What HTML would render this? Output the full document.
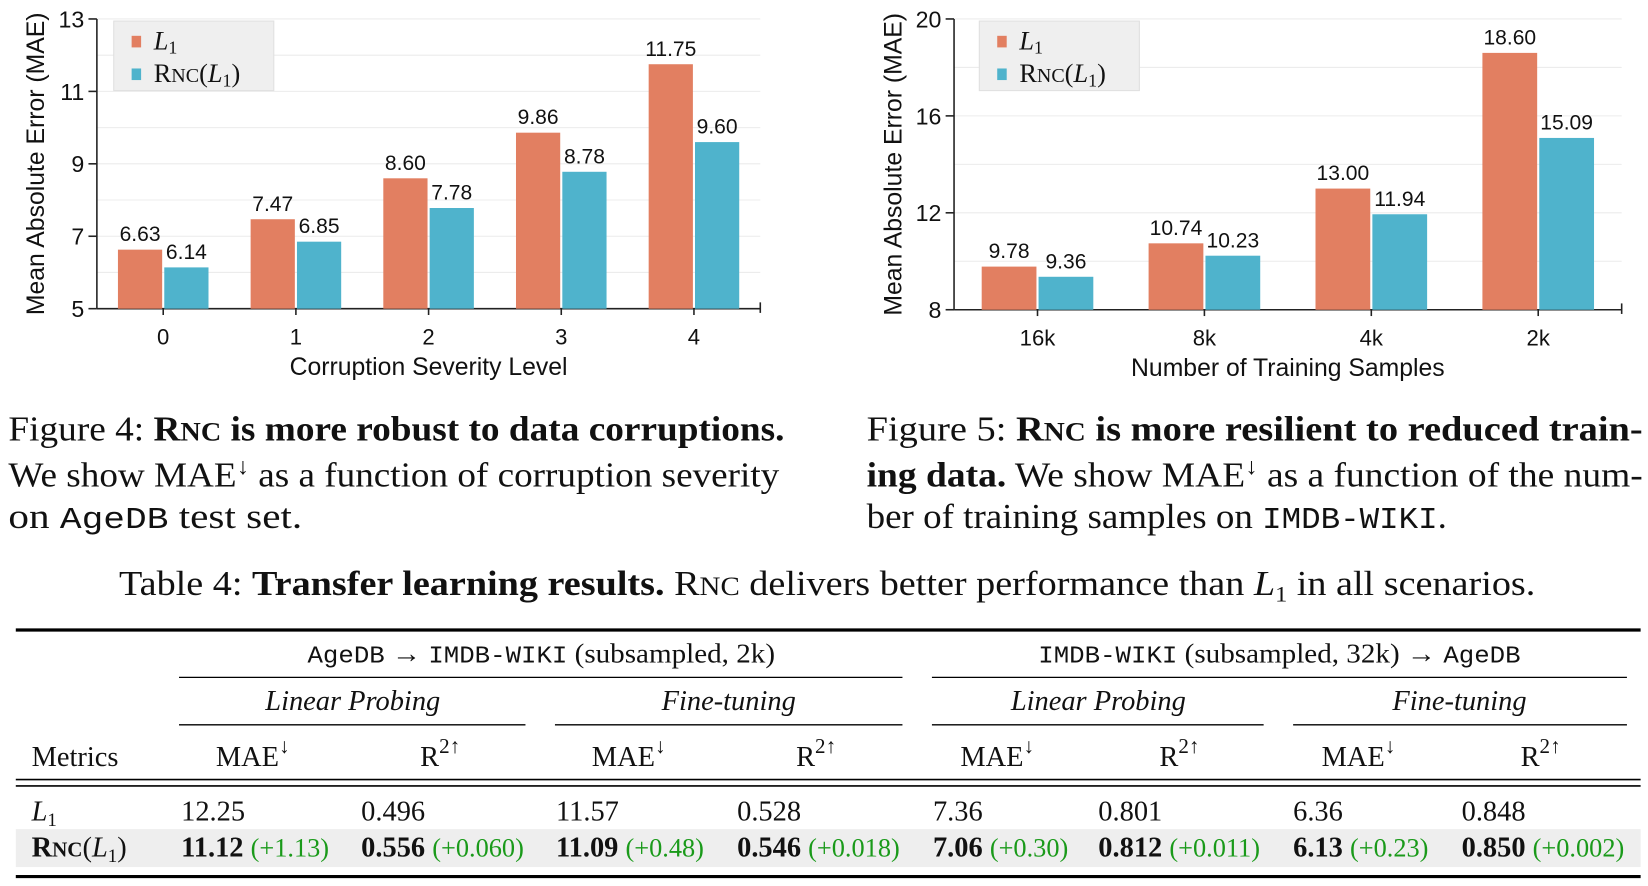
<!DOCTYPE html>
<html><head><meta charset="utf-8"><style>
html,body{margin:0;padding:0;background:#fff;overflow:hidden}
svg{display:block}
.s{font-family:"Liberation Sans",sans-serif}
.r{font-family:"Liberation Serif",serif}
.m{font-family:"Liberation Mono",monospace}
</style></head><body>
<svg id="root" width="1648" height="886" viewBox="0 0 1565 841" preserveAspectRatio="none" xmlns="http://www.w3.org/2000/svg">
<g id="c1"></g>
<g id="c2"></g>

<g class="r" font-size="33" fill="#111">
<text x="8" y="418" textLength="737" lengthAdjust="spacingAndGlyphs">Figure 4: <tspan font-weight="bold">R<tspan font-size="25">NC</tspan> is more robust to data corruptions.</tspan></text>
<text x="8" y="462" textLength="732" lengthAdjust="spacingAndGlyphs">We show MAE<tspan font-size="22" dy="-12">↓</tspan><tspan dy="12"> as a function of corruption severity</tspan></text>
<text x="8" y="501" textLength="279" lengthAdjust="spacingAndGlyphs">on <tspan class="m" font-size="29">AgeDB</tspan> test set.</text>
</g>
<g class="r" font-size="33" fill="#111">
<text x="823" y="418" textLength="737" lengthAdjust="spacingAndGlyphs">Figure 5: <tspan font-weight="bold">R<tspan font-size="25">NC</tspan> is more resilient to reduced train-</tspan></text>
<text x="823" y="462" textLength="737" lengthAdjust="spacingAndGlyphs"><tspan font-weight="bold">ing data.</tspan> We show MAE<tspan font-size="22" dy="-12">↓</tspan><tspan dy="12"> as a function of the num-</tspan></text>
<text x="823" y="501" textLength="551" lengthAdjust="spacingAndGlyphs">ber of training samples on <tspan class="m" font-size="29">IMDB-WIKI</tspan>.</text>
</g>
<text class="r" font-size="33" x="113" y="565" textLength="1345" lengthAdjust="spacingAndGlyphs" fill="#111">Table 4: <tspan font-weight="bold">Transfer learning results.</tspan> R<tspan font-size="25">NC</tspan> delivers better performance than <tspan font-style="italic">L</tspan><tspan font-size="21" dy="6">1</tspan><tspan dy="-6"> in all scenarios.</tspan></text>

<g class="r" font-size="27" fill="#111">
<rect x="15" y="787" width="1543" height="36" fill="#eeeeee"/>
<line x1="15" x2="1558" y1="598" y2="598" stroke="#000" stroke-width="3"/>
<line x1="15" x2="1558" y1="740" y2="740" stroke="#000" stroke-width="1.5"/>
<line x1="15" x2="1558" y1="746" y2="746" stroke="#000" stroke-width="1.5"/>
<line x1="15" x2="1558" y1="832" y2="832" stroke="#000" stroke-width="3"/>
<g stroke="#000" stroke-width="1.2">
<line x1="170" x2="857" y1="643" y2="643"/><line x1="885" x2="1545" y1="643" y2="643"/>
<line x1="170" x2="499" y1="688" y2="688"/><line x1="527" x2="857" y1="688" y2="688"/>
<line x1="885" x2="1200" y1="688" y2="688"/><line x1="1228" x2="1545" y1="688" y2="688"/>
</g>
<text x="292" y="629" textLength="444" lengthAdjust="spacingAndGlyphs" font-size="26"><tspan class="m" font-size="23">AgeDB</tspan> → <tspan class="m" font-size="23">IMDB-WIKI</tspan> (subsampled, 2k)</text>
<text x="986" y="629" textLength="458" lengthAdjust="spacingAndGlyphs" font-size="26"><tspan class="m" font-size="23">IMDB-WIKI</tspan> (subsampled, 32k) → <tspan class="m" font-size="23">AgeDB</tspan></text>
<g font-style="italic" text-anchor="middle">
<text x="335" y="674">Linear Probing</text><text x="692" y="674">Fine-tuning</text>
<text x="1043" y="674">Linear Probing</text><text x="1386" y="674">Fine-tuning</text>
</g>
<text x="30" y="727">Metrics</text>
<g id="hdr" text-anchor="middle"></g>
<g id="rows"></g>
</g>
</svg>
<script>
const NS='http://www.w3.org/2000/svg';
function mk(tag,attrs,parent,txt){const e=document.createElementNS(NS,tag);for(const k in attrs)e.setAttribute(k,attrs[k]);if(txt!==undefined)e.textContent=txt;parent.appendChild(e);return e;}

// Chart 1 data
const c1Categories=['0','1','2','3','4'];
const c1L1=[6.63,7.47,8.60,9.86,11.75];
const c1RNC=[6.14,6.85,7.78,8.78,9.60];
const c1Ticks=[5,7,9,11,13];
// Chart 2 data
const c2Categories=['16k','8k','4k','2k'];
const c2L1=[9.78,10.74,13.00,18.60];
const c2RNC=[9.36,10.23,11.94,15.09];
const c2Ticks=[8,12,16,20];

function chart(g,cfg){
  const {x0,x1,yTop,yBot,min,max,cats,a,b,ticks,gridStep,bw,xTitle,lx}=cfg;
  const y=v=>yBot-(v-min)/(max-min)*(yBot-yTop);
  const step=(x1-x0)/cats.length;
  const cx=i=>x0+step*(i+0.5);
  for(let v=min;v<=max+1e-9;v+=gridStep){const l=mk('line',{x1:x0,x2:x1,y1:y(v),y2:y(v),stroke:'#ececec','stroke-width':1},g);}
  mk('line',{x1:x0,x2:x0,y1:yTop,y2:yBot,stroke:'#222','stroke-width':1.5},g);
  mk('line',{x1:x0,x2:x1,y1:yBot,y2:yBot,stroke:'#222','stroke-width':1.5},g);
  mk('line',{x1:x1,x2:x1,y1:yBot-6,y2:yBot+4,stroke:'#222','stroke-width':1.5},g);
  ticks.forEach(t=>{mk('line',{x1:x0-8,x2:x0,y1:y(t),y2:y(t),stroke:'#222','stroke-width':1.5},g);
    const tl=mk('text',{x:x0-12,y:y(t)+8,'text-anchor':'end','font-size':22,class:'s',fill:'#111'},g,String(t));
    });
  cats.forEach((c,i)=>{
    const X=cx(i);
    mk('line',{x1:X,x2:X,y1:yBot,y2:yBot+6,stroke:'#222','stroke-width':1.5},g);
    const tl=mk('text',{x:X,y:yBot+34,'text-anchor':'middle','font-size':21,class:'s',fill:'#111'},g,c);
    
    const r1=mk('rect',{x:X-bw-1,y:y(a[i]),width:bw,height:yBot-y(a[i]),fill:'#e27f61'},g);
    
    const r2=mk('rect',{x:X+1,y:y(b[i]),width:bw,height:yBot-y(b[i]),fill:'#4fb3cc'},g);
    
    const v1=mk('text',{x:X-bw/2-1,y:y(a[i])-8,'text-anchor':'middle','font-size':20,class:'s',fill:'#111'},g,a[i].toFixed(2));
    
    const v2=mk('text',{x:X+bw/2+1,y:y(b[i])-8,'text-anchor':'middle','font-size':20,class:'s',fill:'#111'},g,b[i].toFixed(2));
    
  });
  const xt=mk('text',{x:(x0+x1)/2,y:yBot+63,'text-anchor':'middle','font-size':23.5,class:'s',fill:'#111'},g,xTitle);
  
  const yt=mk('text',{x:0,y:0,transform:`translate(${x0-50},${(yTop+yBot)/2}) rotate(-90)`,'text-anchor':'middle','font-size':23.5,class:'s',fill:'#111'},g,'Mean Absolute Error (MAE)');
  
  const lg=mk('g',{},g);
  
  mk('rect',{x:lx,y:yTop+2,width:152,height:66,fill:'#efefef',stroke:'#e0e0e0'},lg);
  mk('rect',{x:lx+17,y:yTop+16,width:9,height:11,fill:'#e27f61'},lg);
  mk('rect',{x:lx+17,y:yTop+47,width:9,height:11,fill:'#4fb3cc'},lg);
  const t1=mk('text',{x:lx+38,y:yTop+29,'font-size':25,class:'r',fill:'#111'},lg);
  t1.innerHTML='<tspan font-style="italic">L</tspan><tspan font-size="17" dy="4">1</tspan>';
  
  const t2=mk('text',{x:lx+38,y:yTop+60,'font-size':25,class:'r',fill:'#111'},lg);
  t2.innerHTML='R<tspan font-size="19">NC</tspan>(<tspan font-style="italic">L</tspan><tspan font-size="17" dy="4">1</tspan><tspan dy="-4">)</tspan>';
  
}
chart(document.getElementById('c1'),{x0:92,x1:722,yTop:18,yBot:293,min:5,max:13,cats:c1Categories,a:c1L1,b:c1RNC,ticks:c1Ticks,gridStep:1,bw:42,xTitle:'Corruption Severity Level',lx:108});
chart(document.getElementById('c2'),{x0:906,x1:1540,yTop:18,yBot:294,min:8,max:20,cats:c2Categories,a:c2L1,b:c2RNC,ticks:c2Ticks,gridStep:2,bw:52,xTitle:'Number of Training Samples',lx:930});

// Table
const hdrX=[240,418,597,775,947,1120,1290,1463];
const hdr=document.getElementById('hdr');
hdrX.forEach((x,i)=>{const t=mk('text',{x:x,y:727},hdr);
 t.innerHTML=i%2==0?'MAE<tspan font-size="20" dy="-12">↓</tspan>':'R<tspan font-size="20" dy="-12">2↑</tspan>';
 });
const colX=[172,343,528,700,886,1043,1228,1388];
const l1Row=['12.25','0.496','11.57','0.528','7.36','0.801','6.36','0.848'];
const rncRow=['11.12','0.556','11.09','0.546','7.06','0.812','6.13','0.850'];
const gains=['(+1.13)','(+0.060)','(+0.48)','(+0.018)','(+0.30)','(+0.011)','(+0.23)','(+0.002)'];
const rows=document.getElementById('rows');
let a=mk('text',{x:30,y:779},rows);a.innerHTML='<tspan font-style="italic">L</tspan><tspan font-size="18" dy="5">1</tspan>';

let b=mk('text',{x:30,y:813,'font-weight':'bold'},rows);b.innerHTML='R<tspan font-size="20">NC</tspan><tspan font-weight="normal">(<tspan font-style="italic">L</tspan><tspan font-size="18" dy="5">1</tspan><tspan dy="-5">)</tspan></tspan>';

colX.forEach((x,i)=>{
 const t=mk('text',{x:x,y:779},rows,l1Row[i]);
 const u=mk('text',{x:x,y:813},rows);u.innerHTML='<tspan font-weight="bold">'+rncRow[i]+'</tspan> <tspan fill="#1a9a1a" font-size="25">'+gains[i]+'</tspan>';
 
});
</script>
</body></html>
